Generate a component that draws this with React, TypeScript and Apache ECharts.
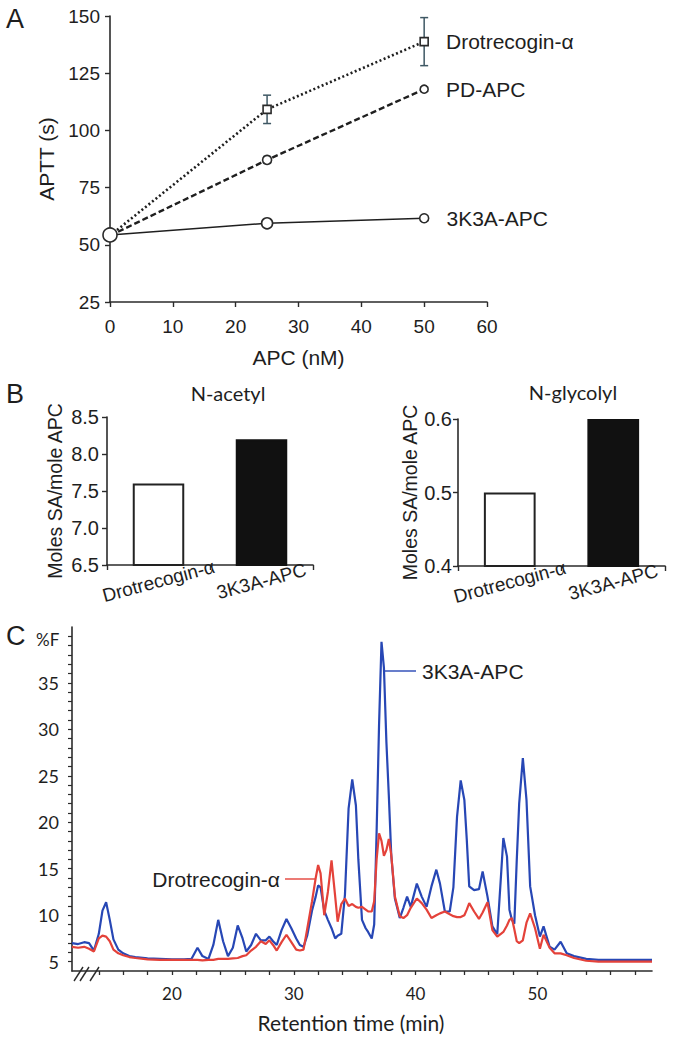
import React, { useEffect, useRef } from "react";
import * as echarts from "echarts";

// ---------- Panel A data ----------
const apcConc = [0, 25, 50];
const drotAPTT = [54, 109.2, 138.8];
const drotErr = [0, 6.2, 10.5];
const pdAPTT = [54, 87.1, 118];
const pdErr = [0, 1.5, 0.8];
const k3aAPTT = [54.3, 59.4, 61.6];
const k3aErr = [0, 0.6, 1.2];

// ---------- Panel B data ----------
const barCategories = ["Drotrecogin-\u03b1", "3K3A-APC"];
const nAcetyl = [7.6, 8.2];
const nGlycolyl = [0.5, 0.6];

// ---------- Panel C data ----------
const retentionTime = [
  11.8, 12.3, 12.8, 13.2, 13.6, 14.0, 14.3, 14.6, 14.9, 15.2,
  15.6, 16.0, 16.5, 17.0, 18.0, 19.0, 20.0, 21.0, 21.6, 22.1,
  22.5, 23.0, 23.4, 23.8, 24.2, 24.6, 25.0, 25.4, 25.8, 26.1,
  26.5, 26.9, 27.3, 27.7, 28.0, 28.3, 28.6, 29.0, 29.4, 29.8,
  30.2, 30.5, 30.8, 31.1, 31.5, 31.8, 32.0, 32.2, 32.5, 32.8,
  33.1, 33.4, 33.6, 33.9, 34.2, 34.5, 34.8, 35.1, 35.3, 35.6,
  35.9, 36.1, 36.4, 36.6, 36.8, 37.0, 37.2, 37.4, 37.6, 37.8,
  38.0, 38.3, 38.7, 39.0, 39.3, 39.6, 40.1, 40.5, 40.9, 41.3,
  41.7, 42.0, 42.4, 42.8, 43.1, 43.4, 43.7, 44.0, 44.2, 44.4,
  44.8, 45.2, 45.5, 45.9, 46.3, 46.7, 47.0, 47.2, 47.5, 47.7,
  47.9, 48.1, 48.3, 48.5, 48.8, 49.1, 49.4, 49.8, 50.2, 50.5,
  51.0, 51.4, 51.9, 52.4, 53.0, 54.0, 55.0, 56.0, 57.0, 58.0,
  59.4,
];
const k3aTrace = [
  7.0, 6.9, 7.1, 7.0, 6.2, 8.0, 10.5, 11.4, 9.5, 7.4,
  6.3, 5.9, 5.6, 5.5, 5.35, 5.3, 5.25, 5.25, 5.3, 6.5,
  5.6, 5.3, 6.8, 9.5, 7.2, 5.6, 6.5, 8.9, 7.5, 6.1,
  6.8, 8.0, 7.3, 7.3, 7.7, 7.2, 6.8, 8.4, 9.6, 8.6,
  7.5, 6.8, 6.6, 7.8, 10.5, 12.0, 13.2, 13.0, 10.5, 9.5,
  8.6, 7.5, 7.8, 8.0, 12.2, 21.5, 24.6, 21.8, 16.0, 9.5,
  8.6, 8.2, 7.5, 9.0, 19.0, 30.5, 39.4, 36.6, 28.7, 22.9,
  16.5, 11.8, 9.7, 10.8, 12.0, 10.9, 13.4, 12.0, 10.9, 13.1,
  14.9, 13.4, 10.4, 10.4, 13.0, 20.6, 24.5, 22.4, 18.1, 13.1,
  12.7, 12.8, 14.7, 12.0, 8.8, 7.95, 14.1, 18.3, 16.3, 10.6,
  9.5, 9.1, 15.9, 22.0, 26.9, 22.4, 13.1, 10.0, 7.7, 8.8,
  6.6, 6.3, 7.15, 5.9, 5.6, 5.3, 5.2, 5.2, 5.2, 5.2,
  5.2,
];
const drotTrace = [
  6.6, 6.5, 6.6, 6.4, 6.1, 7.5, 7.8, 7.7, 7.2, 6.3,
  5.9, 5.7, 5.5, 5.4, 5.25, 5.2, 5.2, 5.2, 5.2, 5.2,
  5.15, 5.2, 5.2, 5.3, 5.3, 5.3, 5.35, 5.4, 5.6, 5.7,
  6.2, 6.6, 7.2, 6.9, 7.3, 6.8, 6.2, 7.1, 7.9, 7.1,
  6.3, 6.2, 6.3, 8.5, 11.5, 14.0, 15.4, 14.5, 10.0, 12.5,
  15.9, 12.0, 9.3, 11.2, 11.8, 11.0, 11.2, 10.9, 10.8, 10.9,
  10.6, 10.4, 10.4, 11.5, 16.0, 18.8, 18.0, 16.4, 17.0, 18.2,
  16.5, 12.0, 9.9, 9.7, 10.0, 10.8, 11.8, 11.3, 10.6, 9.7,
  10.0, 10.2, 10.4, 10.1, 9.9, 9.8, 9.8, 10.0, 10.6, 11.3,
  10.4, 9.6, 10.3, 11.4, 8.4, 7.7, 8.0, 8.2, 8.9, 9.5,
  9.7, 8.5, 7.2, 7.0, 7.3, 9.2, 10.2, 8.6, 6.4, 7.9,
  6.5, 5.9, 5.9, 5.7, 5.4, 5.1, 5.0, 5.0, 5.0, 5.0,
  5.0,
];
const cXLabels = [20, 30, 40, 50];
const cXTicks = [14, 16, 18, 20, 22, 24, 26, 28, 30, 32, 34, 36, 38, 40, 42, 44, 46, 48, 50, 52, 54, 56, 58];
const cYLabels = [5, 10, 15, 20, 25, 30, 35];
const cYTicks = [5, 6, 7, 8, 9, 10, 11, 12, 13, 14, 15, 16, 17, 18, 19, 20, 21, 22, 23, 24, 25, 26, 27, 28, 29, 30, 31, 32, 33, 34, 35, 36, 37, 38, 39, 40];

const FONT = "'Liberation Sans', Arial, Helvetica, sans-serif";
const HFONT = "Lato, 'Open Sans', sans-serif";
const AX = "#2b2b2b";
const TXT = "#1e1e1e";
const BLUE = "#2747b5";
const RED = "#e4423a";

function txt(text: string, x: number, y: number, size: number, align = "left", font = FONT, rotation = 0) {
  return {
    type: "text",
    x,
    y,
    rotation,
    style: {
      text,
      fill: TXT,
      fontSize: size,
      fontFamily: font,
      align,
      textAlign: align,
      verticalAlign: "middle",
      textVerticalAlign: "middle",
    },
  };
}

function seg(x1: number, y1: number, x2: number, y2: number, color: string, w = 1.5) {
  return { type: "line", shape: { x1, y1, x2, y2 }, style: { stroke: color, lineWidth: w } };
}

const errorRender = (_params: any, api: any) => {
  const x = api.value(0);
  const lo = api.value(1);
  const hi = api.value(2);
  const pLo = api.coord([x, lo]);
  const pHi = api.coord([x, hi]);
  const w = 4;
  const st = { stroke: "#3f5864", lineWidth: 1.5 };
  return {
    type: "group",
    children: [
      { type: "line", shape: { x1: pLo[0], y1: pLo[1], x2: pHi[0], y2: pHi[1] }, style: st },
      { type: "line", shape: { x1: pLo[0] - w, y1: pLo[1], x2: pLo[0] + w, y2: pLo[1] }, style: st },
      { type: "line", shape: { x1: pHi[0] - w, y1: pHi[1], x2: pHi[0] + w, y2: pHi[1] }, style: st },
    ],
  };
};

function lineSeries(name: string, ys: number[], errs: number[], symbol: string, sizes: number[], dash: any, width: number) {
  return [
    {
      type: "custom",
      name: name + " error",
      xAxisIndex: 0,
      yAxisIndex: 0,
      renderItem: errorRender,
      data: apcConc.map((x, i) => [x, ys[i] - errs[i], ys[i] + errs[i]]).filter((_, i) => errs[i] > 0),
      z: 2,
    },
    {
      type: "line",
      name,
      xAxisIndex: 0,
      yAxisIndex: 0,
      symbol,
      data: apcConc.map((x, i) => ({
        value: [x, ys[i]],
        symbolSize: sizes[i],
        label:
          i === apcConc.length - 1
            ? { show: true, position: "right", distance: 17, formatter: name, fontSize: 21, color: TXT, fontFamily: FONT }
            : { show: false },
      })),
      lineStyle: { color: "#1f1f1f", width, type: dash },
      itemStyle: { color: "#ffffff", borderColor: "#2a2a2a", borderWidth: 1.6 },
      z: 3,
    },
  ];
}

function valueAxisBase() {
  return {
    axisLine: { show: true, onZero: false, lineStyle: { color: AX, width: 1.6 } },
    axisTick: { show: true, inside: false, length: 5, lineStyle: { color: AX, width: 1.4 } },
    splitLine: { show: false },
  };
}

function catAxis(grid: number) {
  return {
    gridIndex: grid,
    type: "category",
    data: barCategories,
    axisLine: { show: true, lineStyle: { color: AX, width: 1.6 } },
    axisTick: { show: true, length: 5, alignWithLabel: false, lineStyle: { color: AX, width: 1.4 } },
    axisLabel: { rotate: 15, align: "center", verticalAlign: "middle", margin: 16, fontSize: 19, color: TXT, fontFamily: FONT, interval: 0 },
  };
}

function buildOption() {
  return {
    animation: false,
    backgroundColor: "#ffffff",
    grid: [
      { left: 110, top: 16, width: 377, height: 286 },
      { left: 107, top: 417, width: 206, height: 148 },
      { left: 458, top: 419, width: 207, height: 147 },
      { left: 72, top: 627, width: 580, height: 344 },
    ],
    xAxis: [
      {
        gridIndex: 0,
        type: "value",
        min: 0,
        max: 60,
        interval: 10,
        ...valueAxisBase(),
        axisLabel: { fontSize: 19, color: TXT, fontFamily: FONT, margin: 15 },
        name: "APC (nM)",
        nameLocation: "middle",
        nameGap: 45,
        nameTextStyle: { fontSize: 21, color: TXT, fontFamily: FONT },
      },
      catAxis(1),
      catAxis(2),
      {
        gridIndex: 3,
        type: "value",
        min: 11.8,
        max: 59.4,
        ...valueAxisBase(),
        axisTick: { show: true, inside: false, length: 4, customValues: cXTicks, lineStyle: { color: AX, width: 1.3 } },
        axisLabel: { customValues: cXLabels, fontSize: 17, color: TXT, fontFamily: HFONT, margin: 14 },
        name: "Retention time (min)",
        nameLocation: "middle",
        nameGap: 41,
        nameTextStyle: { fontSize: 21, color: TXT, fontFamily: HFONT, padding: [0, 22, 0, 0] },
      },
    ],
    yAxis: [
      {
        gridIndex: 0,
        type: "value",
        min: 25,
        max: 150,
        interval: 25,
        ...valueAxisBase(),
        axisLabel: { fontSize: 19, color: TXT, fontFamily: FONT, margin: 10 },
        name: "APTT (s)",
        nameLocation: "middle",
        nameGap: 44,
        nameTextStyle: { fontSize: 21, color: TXT, fontFamily: FONT },
      },
      {
        gridIndex: 1,
        type: "value",
        min: 6.5,
        max: 8.5,
        interval: 0.5,
        ...valueAxisBase(),
        axisLabel: { fontSize: 20, color: TXT, fontFamily: FONT, margin: 8, formatter: (v: number) => v.toFixed(1) },
        name: "Moles SA/mole APC",
        nameLocation: "middle",
        nameGap: 42,
        nameTextStyle: { fontSize: 19.5, color: TXT, fontFamily: FONT },
      },
      {
        gridIndex: 2,
        type: "value",
        min: 0.4,
        max: 0.6,
        interval: 0.1,
        ...valueAxisBase(),
        axisLabel: { fontSize: 20, color: TXT, fontFamily: FONT, margin: 6, formatter: (v: number) => v.toFixed(1) },
        name: "Moles SA/mole APC",
        nameLocation: "middle",
        nameGap: 36,
        nameTextStyle: { fontSize: 19.5, color: TXT, fontFamily: FONT },
      },
      {
        gridIndex: 3,
        type: "value",
        min: 4,
        max: 41,
        ...valueAxisBase(),
        axisTick: { show: true, inside: false, length: 4, customValues: cYTicks, lineStyle: { color: AX, width: 1.2 } },
        axisLabel: { customValues: cYLabels, fontSize: 18, color: TXT, fontFamily: HFONT, margin: 13 },
      },
    ],
    series: [
      ...lineSeries(barCategories[0], drotAPTT, drotErr, "rect", [8, 8, 8], [2, 2.5], 2.6),
      ...lineSeries("PD-APC", pdAPTT, pdErr, "circle", [9, 9, 8], [6, 3], 2.4),
      ...lineSeries(barCategories[1], k3aAPTT, k3aErr, "circle", [14, 11, 9], "solid", 1.5),
      {
        type: "bar",
        name: "N-acetyl",
        xAxisIndex: 1,
        yAxisIndex: 1,
        barWidth: "50%",
        data: nAcetyl.map((v, i) => ({
          value: v,
          itemStyle: i === 0 ? { color: "#ffffff", borderColor: "#222", borderWidth: 2 } : { color: "#111111", borderColor: "#111", borderWidth: 2 },
        })),
      },
      {
        type: "bar",
        name: "N-glycolyl",
        xAxisIndex: 2,
        yAxisIndex: 2,
        barWidth: "50%",
        data: nGlycolyl.map((v, i) => ({
          value: v,
          itemStyle: i === 0 ? { color: "#ffffff", borderColor: "#222", borderWidth: 2 } : { color: "#111111", borderColor: "#111", borderWidth: 2 },
        })),
      },
      {
        type: "line",
        name: "3K3A-APC trace",
        xAxisIndex: 3,
        yAxisIndex: 3,
        showSymbol: false,
        symbol: "none",
        data: retentionTime.map((t, i) => [t, k3aTrace[i]]),
        lineStyle: { color: BLUE, width: 2.2 },
        z: 3,
      },
      {
        type: "line",
        name: "Drotrecogin trace",
        xAxisIndex: 3,
        yAxisIndex: 3,
        showSymbol: false,
        symbol: "none",
        data: retentionTime.map((t, i) => [t, drotTrace[i]]),
        lineStyle: { color: RED, width: 2.2 },
        z: 4,
      },
    ],
    graphic: [
      txt("A", 6, 19, 27),
      txt("B", 6, 394, 27),
      txt("C", 6, 636, 27),
      txt("N-acetyl", 228, 393, 20, "center", HFONT),
      txt("N-glycolyl", 573, 392, 20, "center", HFONT),
      txt("%F", 36, 639, 17, "left", HFONT),
      // annotations panel C
      seg(385, 671, 416, 671, BLUE, 1.4),
      txt("3K3A-APC", 422, 671, 21),
      seg(285, 879, 316, 879, RED, 1.4),
      txt("Drotrecogin-\u03b1", 280, 879, 21, "right"),
      // axis break
      seg(74, 981, 83, 967, AX, 1.4),
      seg(80, 981, 89, 967, AX, 1.4),
      seg(90, 981, 99, 967, AX, 1.4),
    ],
  };
}

export default function App() {
  const ref = useRef<HTMLDivElement>(null);
  useEffect(() => {
    if (!ref.current) return;
    const chart = echarts.init(ref.current, undefined, { renderer: "svg" });
    chart.setOption(buildOption() as any);
    return () => chart.dispose();
  }, []);
  return (
    <div
      ref={ref}
      style={{ position: "absolute", left: 0, top: 0, width: 676, height: 1038, background: "#fff" }}
    />
  );
}
